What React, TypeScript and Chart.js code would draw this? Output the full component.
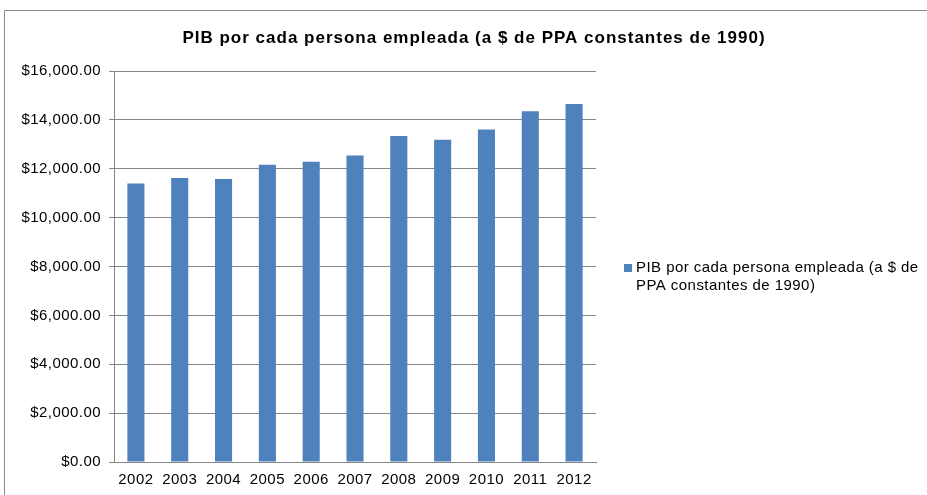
import React, { useEffect, useRef } from "react";
import { Chart, registerables } from "chart.js";

Chart.register(...registerables);

const chartTitle = "PIB por cada persona empleada (a $ de PPA constantes de 1990)";
const seriesLabel = "PIB por cada persona empleada (a $ de PPA constantes de 1990)";
const legendLines = ["PIB por cada persona empleada (a $ de", "PPA constantes de 1990)"];
const years = ["2002", "2003", "2004", "2005", "2006", "2007", "2008", "2009", "2010", "2011", "2012"];
const gdpPerWorker = [11400, 11620, 11580, 12160, 12290, 12540, 13340, 13190, 13610, 14350, 14650];
const yMin = 0;
const yMax = 16000;
const yStep = 2000;

const FONT = "'Liberation Sans', Arial, Helvetica, sans-serif";
const BAR_COLOR = "#4F81BD";
const GRID_COLOR = "#868686";
const TEXT_SPACING = "0.45px";

const fmt = new Intl.NumberFormat("en-US", { minimumFractionDigits: 2, maximumFractionDigits: 2 });

const decorPlugin = {
  id: "decor",
  beforeUpdate(chart: any) {
    chart.ctx.letterSpacing = TEXT_SPACING;
  },
  beforeDraw(chart: any) {
    const ctx = chart.ctx;
    ctx.save();
    ctx.fillStyle = "#ffffff";
    ctx.fillRect(0, 0, chart.width, chart.height);
    ctx.strokeStyle = "#8a8a8a";
    ctx.lineWidth = 1;
    ctx.beginPath();
    ctx.moveTo(4.5, chart.height);
    ctx.lineTo(4.5, 10.5);
    ctx.lineTo(chart.width, 10.5);
    ctx.stroke();
    ctx.restore();
    ctx.letterSpacing = TEXT_SPACING;
  },
  afterDraw(chart: any) {
    const ctx = chart.ctx;
    ctx.save();
    // title
    ctx.letterSpacing = "1px";
    ctx.fillStyle = "#000000";
    ctx.font = `bold 17px ${FONT}`;
    ctx.textAlign = "center";
    ctx.textBaseline = "middle";
    ctx.fillText(chartTitle, 474, 38.5);
    // legend
    const ds = chart.data.datasets[0];
    ctx.letterSpacing = TEXT_SPACING;
    ctx.fillStyle = ds.backgroundColor;
    ctx.fillRect(624, 264, 8, 8);
    ctx.fillStyle = "#000000";
    ctx.font = `15px ${FONT}`;
    ctx.textAlign = "left";
    legendLines.forEach((line, i) => {
      ctx.fillText(line, 636, 268 + i * 18);
    });
    ctx.restore();
  },
};

export default function App() {
  const canvasRef = useRef<HTMLCanvasElement | null>(null);

  useEffect(() => {
    if (!canvasRef.current) return;
    const chart = new Chart(canvasRef.current, {
      type: "bar",
      data: {
        labels: years,
        datasets: [
          {
            label: seriesLabel,
            data: gdpPerWorker,
            backgroundColor: BAR_COLOR,
            borderWidth: 0,
            categoryPercentage: 1,
            barPercentage: 0.39,
          },
        ],
      },
      options: {
        responsive: false,
        maintainAspectRatio: false,
        animation: false,
        devicePixelRatio: 1,
        layout: { padding: { top: 71, right: 331, bottom: 0, left: 0 } },
        plugins: {
          legend: { display: false },
          title: { display: false },
          tooltip: { enabled: false },
        },
        scales: {
          x: {
            grid: { display: false, drawTicks: false },
            border: { display: true, color: GRID_COLOR, width: 1 },
            ticks: {
              color: "#000000",
              font: { family: FONT, size: 15 },
              padding: 9,
              maxRotation: 0,
              autoSkip: false,
            },
            afterFit: (scale: any) => {
              scale.height = 33;
            },
          },
          y: {
            min: yMin,
            max: yMax,
            grid: { color: GRID_COLOR, lineWidth: 1, drawTicks: true, tickLength: 5 },
            border: { display: true, color: GRID_COLOR, width: 1 },
            ticks: {
              stepSize: yStep,
              color: "#000000",
              font: { family: FONT, size: 15 },
              padding: 8,
              callback: (v: any) => "$" + fmt.format(Number(v)),
            },
            afterFit: (scale: any) => {
              scale.width = 114;
            },
          },
        },
      },
      plugins: [decorPlugin],
    });
    return () => chart.destroy();
  }, []);

  return (
    <div style={{ position: "absolute", left: 0, top: 0, width: 927, height: 495, overflow: "hidden", background: "#fff" }}>
      <canvas ref={canvasRef} width={927} height={495} style={{ display: "block", width: 927, height: 495 }} />
    </div>
  );
}
